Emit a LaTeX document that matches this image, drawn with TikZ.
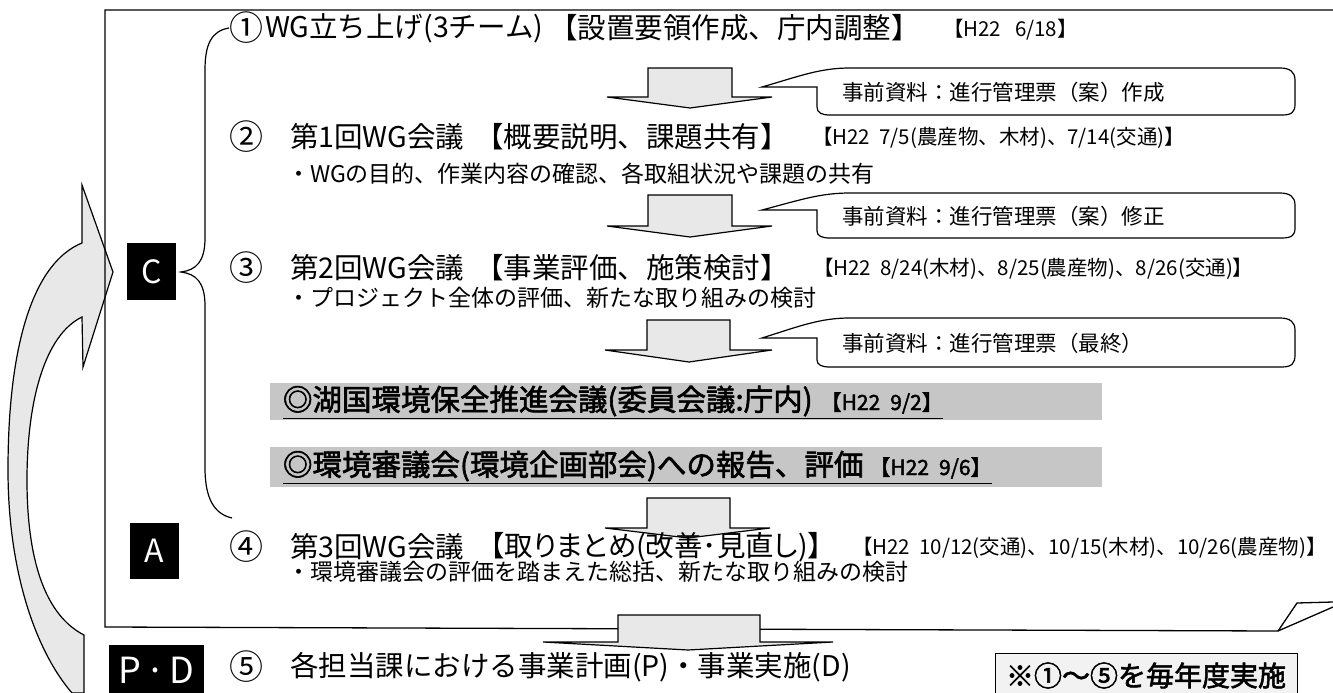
\documentclass[tikz,border=0pt]{standalone}
\usepackage{fontspec}
\newfontfamily\jp{Noto Sans CJK JP}
\newfontfamily\jpb{Noto Sans CJK JP}[FakeBold=2]
\begin{document}
\begin{tikzpicture}[x=1pt,y=-1pt,
  every node/.style={inner sep=0pt,outer sep=0pt},
  numtext/.style={anchor=west,font=\jp\fontsize{34}{34}\selectfont},
  mainline/.style={anchor=west,font=\jp\fontsize{28.5}{28.5}\selectfont},
  subline/.style={anchor=west,font=\jp\fontsize{23}{23}\selectfont},
  dateline/.style={anchor=west,font=\jp\fontsize{20.5}{20.5}\selectfont},
  notetext/.style={anchor=west,font=\jp\fontsize{21.5}{21.5}\selectfont},
  graytext/.style={anchor=west,font=\jpb\fontsize{29.5}{29.5}\selectfont},
  graydate/.style={anchor=west,font=\jpb\fontsize{21}{21}\selectfont},
  phasebox/.style={fill=black,text=white,font=\jp\fontsize{32}{32}\selectfont},
  blockarrow/.style={draw=black,fill=gray!18,line width=1.2pt,line join=miter},
  callout/.style={draw=black,fill=white,line width=1.2pt},
  graybar/.style={fill=gray!45},
  frameline/.style={draw=black,line width=1.3pt},
  bracket/.style={draw=black,line width=1.2pt}
]
\useasboundingbox (0,0) rectangle (1333,693);

% big curved arrow on the left
\path[blockarrow] (113,272) -- (82,185) -- (82,243)
  .. controls (35,262) and (8,340) .. (8,470)
  .. controls (8,570) and (35,650) .. (72,693)
  -- (84,693) -- (84,635)
  .. controls (45,615) and (27,560) .. (27,480)
  .. controls (27,400) and (45,335) .. (82,317)
  -- (83,367) -- cycle;

% main frame
\coordinate (fTL) at (105,10);
\coordinate (fBL) at (105,627);
\coordinate (fBR) at (1278,631);
\coordinate (fR) at (1333,10);
\coordinate (foldA) at (1297,603);
\coordinate (foldB) at (1333,602);
\coordinate (foldC) at (1333,607);
\draw[frameline] (fR) -- (fTL) -- (fBL) -- (fBR);
\draw[frameline] (fBR) -- (foldA) -- (foldB);
\draw[frameline] (fBR) -- (foldC);

% phase boxes
\node[phasebox,minimum width=49pt,minimum height=57pt] (C) at (151.5,271.5) {C};
\node[phasebox,minimum width=49pt,minimum height=56pt] (A) at (154.5,551) {A};
\node[phasebox,minimum width=95pt,minimum height=50pt,anchor=north west,font=\jp\fontsize{36}{36}\selectfont] (PD) at (109,645) {P\hspace{4pt}·\hspace{4pt}D};

% brace
\draw[bracket] (229,28) .. controls (211,31) and (205,45) .. (205,70)
  -- (205,238) .. controls (205,262) and (196,270) .. (181,272)
  .. controls (196,274) and (205,282) .. (205,306)
  -- (205,468) .. controls (205,498) and (214,514) .. (232,518);

% block arrows
\path[blockarrow] (648,68) -- (732,68) -- (732,97) -- (772,97) -- (690,108) -- (607,97) -- (648,97) -- cycle;
\path[blockarrow] (648,195) -- (732,195) -- (732,226) -- (772,226) -- (690,237) -- (607,226) -- (648,226) -- cycle;
\path[blockarrow] (647,320) -- (730,320) -- (730,350) -- (772,350) -- (689,362) -- (605,350) -- (647,350) -- cycle;
\path[blockarrow] (647,498) -- (730,498) -- (730,528) -- (770,528) -- (688,538) -- (605,528) -- (647,528) -- cycle;
\path[blockarrow] (618,615) -- (760,615) -- (760,642) -- (833,642) -- (688,650) -- (543,642) -- (618,642) -- cycle;

% callouts
\path[callout] (762,87) -- (817,87) -- (817,107) .. controls (817,113) and (822,115) .. (830,115)
  -- (1282,115) .. controls (1292,115) and (1295,112) .. (1295,104)
  -- (1295,80) .. controls (1295,72) and (1290,68) .. (1280,68)
  -- (850,68) .. controls (820,68) and (800,76) .. cycle;
\node[notetext] (n1) at (842,92) {事前資料：進行管理票（案）作成};
\path[callout] (762,210) -- (817,210) -- (817,231) .. controls (817,236) and (822,238) .. (830,238)
  -- (1282,238) .. controls (1292,238) and (1295,235) .. (1295,228)
  -- (1295,205) .. controls (1295,197) and (1290,193) .. (1280,193)
  -- (850,193) .. controls (820,193) and (800,200) .. cycle;
\node[notetext] (n2) at (842,216) {事前資料：進行管理票（案）修正};
\path[callout] (762,338) -- (817,338) -- (817,360) .. controls (817,365) and (822,367) .. (830,367)
  -- (1282,367) .. controls (1292,367) and (1295,363) .. (1295,355)
  -- (1295,330) .. controls (1295,322) and (1290,318) .. (1280,318)
  -- (850,318) .. controls (820,318) and (800,326) .. cycle;
\node[notetext] (n3) at (842,343) {事前資料：進行管理票（最終）};

% step 1
\node[numtext] (c1) at (229,28) {①};
\node[mainline] (s1) at (265,28) {WG立ち上げ(3チーム)};
\node[mainline] (s1b) at (549,28) {【設置要領作成、庁内調整】};
\node[dateline] (d1) at (943,30) {【H22\hspace{14pt}6/18】};

% step 2
\node[numtext] (c2) at (229,137) {②};
\node[mainline] (s2) at (290,137) {第1回WG会議};
\node[mainline] (s2b) at (475,137) {【概要説明、課題共有】};
\node[dateline] (d2) at (812,138) {【H22\ \ 7/5(農産物、木材)、7/14(交通)】};
\node[subline] (t2) at (287,174) {・WGの目的、作業内容の確認、各取組状況や課題の共有};

% step 3
\node[numtext] (c3) at (229,268) {③};
\node[mainline] (s3) at (290,268) {第2回WG会議};
\node[mainline] (s3b) at (475,268) {【事業評価、施策検討】};
\node[dateline] (d3) at (813,269) {【H22\ \ 8/24(木材)、8/25(農産物)、8/26(交通)】};
\node[subline] (t3) at (287,298) {・プロジェクト全体の評価、新たな取り組みの検討};

% gray bars
\path[graybar] (270,383) rectangle (1102,420);
\node[graytext] (g1) at (283,401) {◎湖国環境保全推進会議(委員会議:庁内)};
\node[graydate] (g1d) at (g1.east) [anchor=west,xshift=8pt,yshift=-2pt] {【H22\hspace{10pt}9/2】};
\draw[line width=1.5pt] (g1.south west) ++(0,2) coordinate (u1) -- (u1 -| g1d.east);
\path[graybar] (270,447) rectangle (1102,487);
\node[graytext] (g2) at (283,466) {◎環境審議会(環境企画部会)への報告、評価};
\node[graydate] (g2d) at (g2.east) [anchor=west,xshift=6pt,yshift=-2pt] {【H22\hspace{10pt}9/6】};
\draw[line width=1.5pt] (g2.south west) ++(0,2) coordinate (u2) -- (u2 -| g2d.east);

% step 4
\node[numtext] (c4) at (229,547) {④};
\node[mainline] (s4) at (290,547) {第3回WG会議};
\node[mainline] (s4b) at (490,547) {\addfontfeature{RawFeature=+palt}【取りまとめ(改善･見直し)】};
\node[dateline] (d4) at (852,548) {【H22\ \ 10/12(交通)、10/15(木材)、10/26(農産物)】};
\node[subline] (t4) at (287,572) {・環境審議会の評価を踏まえた総括、新たな取り組みの検討};

% step 5
\node[numtext] (c5) at (229,667) {⑤};
\node[mainline] (s5) at (290,667) {各担当課における事業計画(P)・事業実施(D)};

\node[draw=black,fill=gray!10,line width=1pt,anchor=north west,minimum width=302pt,minimum height=45pt,font=\jpb\fontsize{28}{28}\selectfont] (note) at (995,653) {※①～⑤を毎年度実施};
\end{tikzpicture}
\end{document}
